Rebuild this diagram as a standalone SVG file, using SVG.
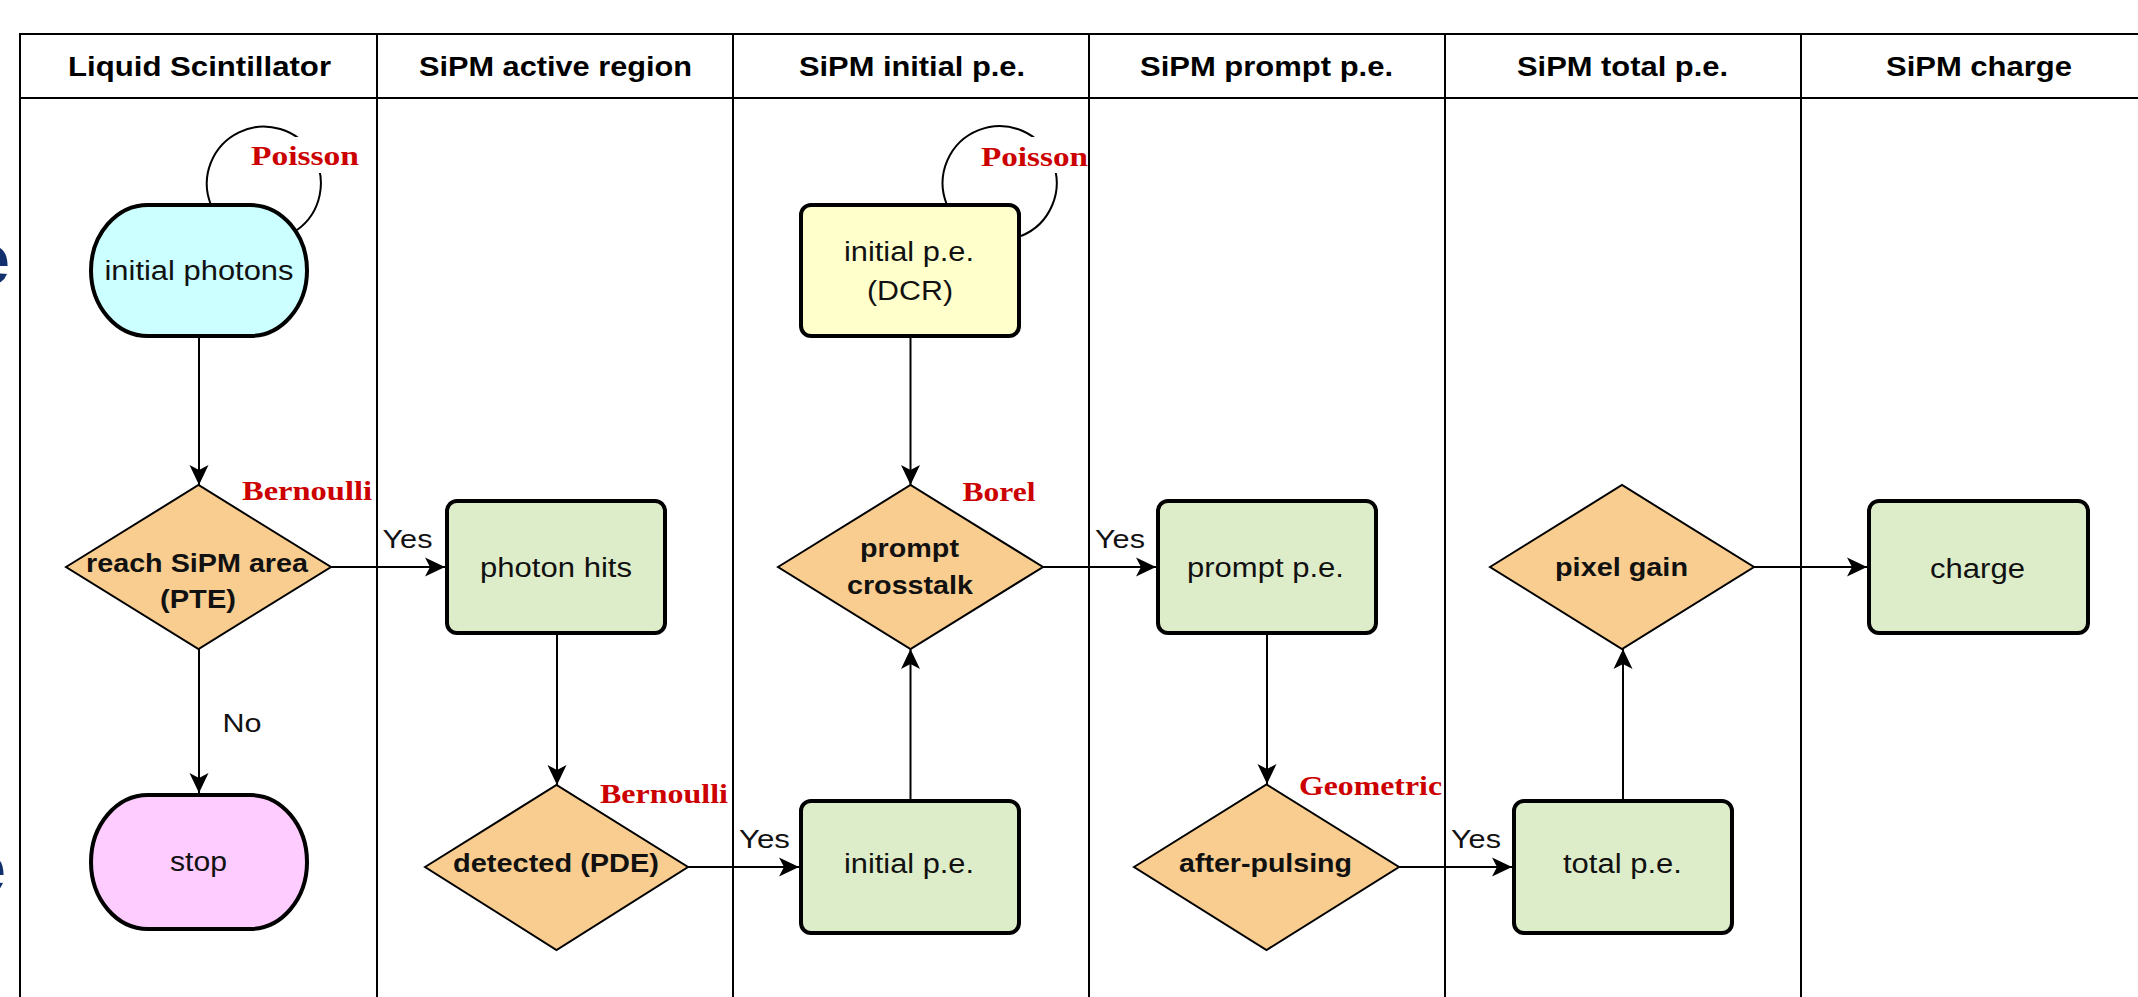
<svg xmlns="http://www.w3.org/2000/svg" width="2138" height="997" viewBox="0 0 2138 997">
  <style>
    .lane { stroke: #000; stroke-width: 2; fill: none; }
    .hdr { font-family: "Liberation Sans", Arial, sans-serif; font-weight: bold; font-size: 27px; text-anchor: middle; fill: #000; }
    .txt { font-family: "Liberation Sans", Arial, sans-serif; font-size: 27px; text-anchor: middle; fill: #111; }
    .btxt { font-family: "Liberation Sans", Arial, sans-serif; font-weight: bold; font-size: 26px; text-anchor: middle; fill: #111; }
    .edge { font-family: "Liberation Sans", Arial, sans-serif; font-size: 25px; text-anchor: middle; fill: #111; }
    .dist { font-family: "Liberation Serif", "Times New Roman", serif; font-weight: bold; font-size: 27px; text-anchor: middle; fill: #CC0000; }
    .conn { stroke: #000; stroke-width: 2; fill: none; }
    .arrowed { marker-end: url(#arrow); }
    .box { fill: #DEEDC9; stroke: #000; stroke-width: 4; }
    .box.note { fill: #FFFFCC; }
    .dia { fill: #F9CD8F; stroke: #000; stroke-width: 2; }
    .term { stroke: #000; stroke-width: 4; }
    .bg-letter { font-family: "Liberation Sans", Arial, sans-serif; font-weight: bold; font-size: 72px; fill: #12306E; }
  </style>
  <defs>
    <marker id="arrow" markerUnits="userSpaceOnUse" markerWidth="24" markerHeight="24" viewBox="-22 -12 24 24" refX="0" refY="0" orient="auto">
      <path d="M0,0 L-20,-9.5 L-15,0 L-20,9.5 Z" fill="#000"/>
    </marker>
  </defs>

  <rect width="2138" height="997" fill="#fff"/>

  <!-- letters of the slide behind, running off the left edge -->
  <text class="bg-letter" x="-30" y="284">e</text>
  <text class="bg-letter" x="-34" y="893">e</text>

  <!-- swimlanes -->
  <g id="lanes">
    <line class="lane" x1="20" y1="34" x2="2140" y2="34"/>
    <line class="lane" x1="20" y1="98" x2="2140" y2="98"/>
    <line class="lane" x1="20" y1="33" x2="20" y2="1000"/>
    <line class="lane" x1="377" y1="33" x2="377" y2="1000"/>
    <line class="lane" x1="733" y1="33" x2="733" y2="1000"/>
    <line class="lane" x1="1089" y1="33" x2="1089" y2="1000"/>
    <line class="lane" x1="1445" y1="33" x2="1445" y2="1000"/>
    <line class="lane" x1="1801" y1="33" x2="1801" y2="1000"/>
    <text class="hdr" x="199.5" y="76" textLength="263" lengthAdjust="spacingAndGlyphs">Liquid Scintillator</text>
    <text class="hdr" x="555.5" y="76" textLength="273" lengthAdjust="spacingAndGlyphs">SiPM active region</text>
    <text class="hdr" x="912" y="76" textLength="226" lengthAdjust="spacingAndGlyphs">SiPM initial p.e.</text>
    <text class="hdr" x="1266.5" y="76" textLength="253" lengthAdjust="spacingAndGlyphs">SiPM prompt p.e.</text>
    <text class="hdr" x="1622.5" y="76" textLength="211" lengthAdjust="spacingAndGlyphs">SiPM total p.e.</text>
    <text class="hdr" x="1979" y="76" textLength="186" lengthAdjust="spacingAndGlyphs">SiPM charge</text>
  </g>

  <!-- connectors -->
  <g id="connectors">
    <path class="conn arrowed" d="M199,338 V485"/>
    <path class="conn arrowed" d="M331,567 H445"/>
    <path class="conn arrowed" d="M199,649 V793"/>
    <path class="conn arrowed" d="M557,635 V785"/>
    <path class="conn arrowed" d="M688,867 H799"/>
    <path class="conn arrowed" d="M910.5,799 V649"/>
    <path class="conn arrowed" d="M910.5,338 V485"/>
    <path class="conn arrowed" d="M1043,567 H1156"/>
    <path class="conn arrowed" d="M1267,635 V784"/>
    <path class="conn arrowed" d="M1399,867 H1512"/>
    <path class="conn arrowed" d="M1623,799 V649"/>
    <path class="conn arrowed" d="M1754,567 H1867"/>
    <!-- self loops -->
    <path class="conn" stroke-width="1.6" d="M210.6,204 A57,57 0 1 1 297,230"/>
    <path class="conn" stroke-width="1.6" d="M946.6,204 A57,57 0 1 1 1021,236"/>

    <text class="edge" x="407.5" y="548" textLength="50" lengthAdjust="spacingAndGlyphs">Yes</text>
    <text class="edge" x="242" y="732" textLength="39" lengthAdjust="spacingAndGlyphs">No</text>
    <text class="edge" x="764.5" y="848" textLength="51" lengthAdjust="spacingAndGlyphs">Yes</text>
    <text class="edge" x="1120" y="548" textLength="50" lengthAdjust="spacingAndGlyphs">Yes</text>
    <text class="edge" x="1476" y="848" textLength="50" lengthAdjust="spacingAndGlyphs">Yes</text>

    <rect x="250" y="137" width="110" height="36" fill="#fff"/>
    <text class="dist" x="305" y="165" textLength="108" lengthAdjust="spacingAndGlyphs">Poisson</text>
    <rect x="980" y="137" width="107" height="36" fill="#fff"/>
    <text class="dist" x="1034.5" y="166" textLength="107" lengthAdjust="spacingAndGlyphs">Poisson</text>
    <text class="dist" x="307" y="500" textLength="130" lengthAdjust="spacingAndGlyphs">Bernoulli</text>
    <text class="dist" x="999" y="501" textLength="73" lengthAdjust="spacingAndGlyphs">Borel</text>
    <text class="dist" x="664" y="803" textLength="128" lengthAdjust="spacingAndGlyphs">Bernoulli</text>
    <text class="dist" x="1370.5" y="795" textLength="143" lengthAdjust="spacingAndGlyphs">Geometric</text>
  </g>

  <!-- nodes -->
  <g id="initial-photons">
    <rect class="term" x="91" y="205" width="216" height="131" rx="57" ry="65.5" fill="#CCFFFF"/>
    <text class="txt" x="199" y="280" textLength="189" lengthAdjust="spacingAndGlyphs">initial photons</text>
  </g>
  <g id="reach-sipm">
    <polygon class="dia" points="66,567 198.5,485 331,567 198.5,649"/>
    <text class="btxt" x="197" y="572" textLength="222" lengthAdjust="spacingAndGlyphs">reach SiPM area</text>
    <text class="btxt" x="198" y="608" textLength="76" lengthAdjust="spacingAndGlyphs">(PTE)</text>
  </g>
  <g id="stop">
    <rect class="term" x="91" y="795" width="216" height="134" rx="57" ry="67" fill="#FFCCFF"/>
    <text class="txt" x="198.5" y="871" textLength="57" lengthAdjust="spacingAndGlyphs">stop</text>
  </g>
  <g id="photon-hits">
    <rect class="box" x="447" y="501" width="218" height="132" rx="10"/>
    <text class="txt" x="556" y="577" textLength="152" lengthAdjust="spacingAndGlyphs">photon hits</text>
  </g>
  <g id="detected">
    <polygon class="dia" points="425,867 556.5,785 688,867 556.5,950"/>
    <text class="btxt" x="556" y="872" textLength="206" lengthAdjust="spacingAndGlyphs">detected (PDE)</text>
  </g>
  <g id="initial-pe-dcr">
    <rect class="box note" x="801" y="205" width="218" height="131" rx="10"/>
    <text class="txt" x="909" y="261" textLength="130" lengthAdjust="spacingAndGlyphs">initial p.e.</text>
    <text class="txt" x="910" y="300" textLength="86" lengthAdjust="spacingAndGlyphs">(DCR)</text>
  </g>
  <g id="prompt-crosstalk">
    <polygon class="dia" points="778,567 910.5,485 1043,567 910.5,649"/>
    <text class="btxt" x="909.5" y="557" textLength="99" lengthAdjust="spacingAndGlyphs">prompt</text>
    <text class="btxt" x="910" y="594" textLength="126" lengthAdjust="spacingAndGlyphs">crosstalk</text>
  </g>
  <g id="initial-pe">
    <rect class="box" x="801" y="801" width="218" height="132" rx="10"/>
    <text class="txt" x="909" y="873" textLength="130" lengthAdjust="spacingAndGlyphs">initial p.e.</text>
  </g>
  <g id="prompt-pe">
    <rect class="box" x="1158" y="501" width="218" height="132" rx="10"/>
    <text class="txt" x="1265.5" y="577" textLength="157" lengthAdjust="spacingAndGlyphs">prompt p.e.</text>
  </g>
  <g id="after-pulsing">
    <polygon class="dia" points="1134,867 1266.5,784.5 1399,867 1266.5,950"/>
    <text class="btxt" x="1265.5" y="872" textLength="173" lengthAdjust="spacingAndGlyphs">after-pulsing</text>
  </g>
  <g id="total-pe">
    <rect class="box" x="1514" y="801" width="218" height="132" rx="10"/>
    <text class="txt" x="1622.5" y="873" textLength="119" lengthAdjust="spacingAndGlyphs">total p.e.</text>
  </g>
  <g id="pixel-gain">
    <polygon class="dia" points="1490,567 1622,485 1754,567 1622,649"/>
    <text class="btxt" x="1621.5" y="576" textLength="133" lengthAdjust="spacingAndGlyphs">pixel gain</text>
  </g>
  <g id="charge">
    <rect class="box" x="1869" y="501" width="219" height="132" rx="10"/>
    <text class="txt" x="1977.5" y="578" textLength="95" lengthAdjust="spacingAndGlyphs">charge</text>
  </g>
</svg>
